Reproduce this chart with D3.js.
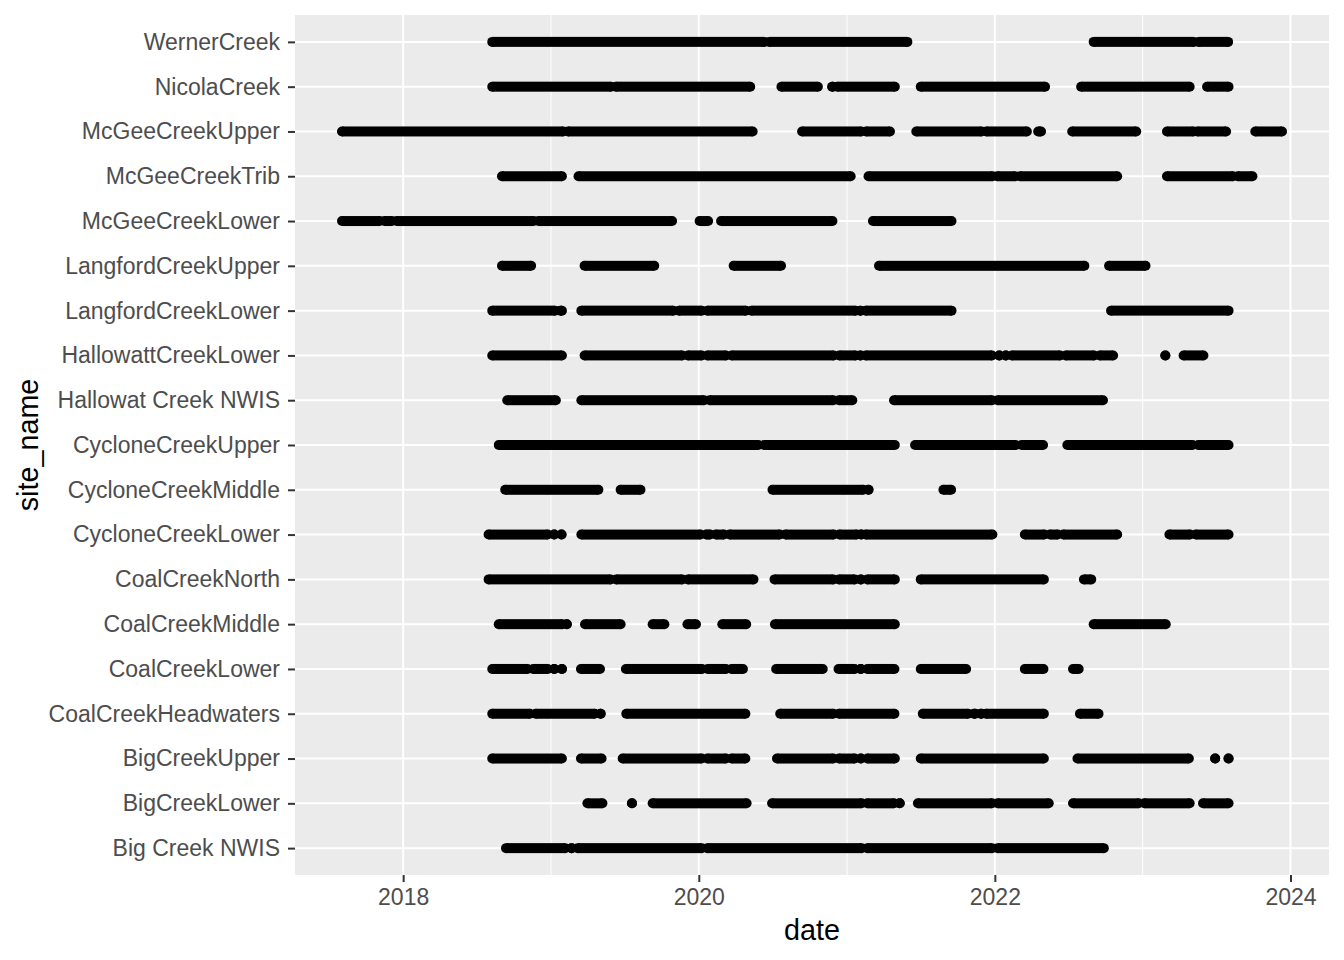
<!DOCTYPE html>
<html>
<head>
<meta charset="utf-8">
<script src="https://cdn.jsdelivr.net/npm/d3@7"></script>
<style>
  html, body { margin: 0; padding: 0; background: #fff; }
  svg { display: block; font-family: "Liberation Sans", Arial, sans-serif; }
</style>
</head>
<body>
<svg id="chart" width="1344" height="960"></svg>
<script>
// ---- Data (observation runs per site: [start, end]) ----
const sites = ["WernerCreek","NicolaCreek","McGeeCreekUpper","McGeeCreekTrib","McGeeCreekLower",
  "LangfordCreekUpper","LangfordCreekLower","HallowattCreekLower","Hallowat Creek NWIS",
  "CycloneCreekUpper","CycloneCreekMiddle","CycloneCreekLower","CoalCreekNorth","CoalCreekMiddle",
  "CoalCreekLower","CoalCreekHeadwaters","BigCreekUpper","BigCreekLower","Big Creek NWIS"];

const wernerCreek = [["2018-08-09","2020-06-11"],["2020-06-23","2021-05-30"],
  ["2022-09-02","2023-05-07"],["2023-05-19","2023-07-31"]];
const nicolaCreek = [["2018-08-09","2019-05-29"],["2019-06-10","2020-05-07"],["2020-07-23","2020-10-21"],
  ["2020-11-25","2020-11-27"],["2020-12-08","2021-04-29"],["2021-07-02","2022-05-05"],
  ["2022-08-02","2023-04-27"],["2023-06-09","2023-08-01"]];
const mcGeeCreekUpper = [["2017-08-03","2019-01-31"],["2019-02-12","2020-05-13"],["2020-09-12","2021-02-05"],
  ["2021-02-17","2021-04-17"],["2021-06-21","2021-11-29"],["2021-12-11","2022-03-21"],["2022-04-18","2022-04-25"],
  ["2022-07-11","2022-12-16"],["2023-03-02","2023-05-06"],["2023-05-16","2023-07-26"],["2023-10-06","2023-12-11"]];
const mcGeeCreekTrib = [["2018-09-02","2019-01-28"],["2019-03-10","2021-01-10"],["2021-02-23","2021-12-26"],
  ["2022-01-07","2022-02-20"],["2022-03-04","2022-10-30"],["2023-03-02","2023-08-12"],["2023-08-24","2023-09-29"]];
const mcGeeCreekLower = [["2017-08-03","2017-11-04"],["2017-11-16","2017-12-04"],["2017-12-16","2018-11-19"],
  ["2018-12-01","2019-10-27"],["2020-01-03","2020-01-24"],["2020-02-25","2020-11-26"],["2021-03-06","2021-09-16"]];
const langfordCreekUpper = [["2018-09-02","2018-11-13"],["2019-03-25","2019-09-13"],["2020-03-27","2020-07-22"],
  ["2021-03-21","2022-08-10"],["2022-10-10","2023-01-08"]];
const langfordCreekLower = [["2018-08-09","2019-01-11"],["2019-01-24","2019-01-28"],["2019-03-17","2019-10-30"],
  ["2019-11-13","2020-01-08"],["2020-01-22","2020-04-26"],["2020-05-10","2021-01-22"],["2021-02-03","2021-02-03"],
  ["2021-02-16","2021-09-16"],["2022-10-15","2023-08-01"]];
const hallowattCreekLower = [["2018-08-09","2019-01-28"],["2019-03-25","2019-11-21"],["2019-12-05","2020-01-08"],
  ["2020-01-22","2020-03-08"],["2020-03-22","2020-11-29"],["2020-12-13","2021-01-22"],["2021-02-03","2021-02-03"],
  ["2021-02-16","2021-12-25"],["2022-01-12","2022-01-12"],["2022-01-28","2022-01-28"],["2022-02-12","2022-06-11"],
  ["2022-06-25","2022-09-03"],["2022-09-17","2022-10-20"],["2023-02-26","2023-02-26"],["2023-04-12","2023-05-31"]];
const hallowatCreekNWIS = [["2018-09-15","2019-01-13"],["2019-03-17","2020-01-14"],["2020-01-28","2020-11-28"],
  ["2020-12-12","2021-01-14"],["2021-04-27","2021-12-25"],["2022-01-08","2022-09-25"]];
const cycloneCreekUpper = [["2018-08-25","2020-05-27"],["2020-06-10","2021-04-29"],["2021-06-18","2022-02-22"],
  ["2022-03-08","2022-04-30"],["2022-06-29","2023-05-04"],["2023-05-18","2023-08-01"]];
const cycloneCreekMiddle = [["2018-09-10","2019-04-28"],["2019-06-22","2019-08-10"],["2020-07-01","2021-02-10"],
  ["2021-02-23","2021-02-23"],["2021-08-27","2021-09-15"]];
const cycloneCreekLower = [["2018-07-31","2018-12-24"],["2019-01-09","2019-01-09"],["2019-01-27","2019-01-27"],
  ["2019-03-17","2020-01-05"],["2020-01-19","2020-01-29"],["2020-02-12","2020-03-03"],["2020-03-17","2020-07-19"],
  ["2020-08-02","2020-11-29"],["2020-12-13","2021-01-25"],["2021-02-05","2021-02-05"],["2021-02-16","2021-12-26"],
  ["2022-03-16","2022-05-03"],["2022-05-17","2022-06-05"],["2022-06-19","2022-10-30"],
  ["2023-03-08","2023-04-28"],["2023-05-12","2023-08-01"]];
const coalCreekNorth = [["2018-07-31","2019-05-28"],["2019-06-11","2019-11-21"],["2019-12-05","2020-05-15"],
  ["2020-07-06","2020-11-28"],["2020-12-12","2021-01-20"],["2021-02-04","2021-02-04"],["2021-02-20","2021-04-29"],
  ["2021-07-02","2022-05-02"],["2022-08-09","2022-08-27"]];
const coalCreekMiddle = [["2018-08-25","2019-01-29"],["2019-02-09","2019-02-09"],["2019-03-26","2019-06-22"],
  ["2019-09-09","2019-10-08"],["2019-12-04","2019-12-25"],["2020-02-28","2020-04-27"],["2020-07-07","2021-04-29"],
  ["2022-09-02","2023-02-27"]];
const coalCreekLower = [["2018-08-09","2018-11-04"],["2018-11-18","2018-12-24"],["2019-01-09","2019-01-09"],
  ["2019-01-28","2019-01-28"],["2019-03-16","2019-05-02"],["2019-07-05","2020-01-09"],["2020-01-23","2020-03-08"],
  ["2020-03-22","2020-04-19"],["2020-07-10","2020-11-02"],["2020-12-11","2021-01-20"],["2021-02-04","2021-02-04"],
  ["2021-02-20","2021-04-28"],["2021-07-02","2021-10-22"],["2022-03-16","2022-05-01"],["2022-07-13","2022-07-27"]];
const coalCreekHeadwaters = [["2018-08-09","2018-11-10"],["2018-11-24","2019-04-19"],["2019-05-03","2019-05-04"],
  ["2019-07-06","2020-04-25"],["2020-07-20","2020-11-28"],["2020-12-12","2021-04-28"],["2021-07-07","2021-10-27"],
  ["2021-11-10","2021-11-14"],["2021-11-27","2021-11-29"],["2021-12-10","2022-05-02"],["2022-07-30","2022-09-14"]];
const bigCreekUpper = [["2018-08-09","2019-01-28"],["2019-03-16","2019-05-06"],["2019-06-27","2020-01-08"],
  ["2020-01-22","2020-03-08"],["2020-03-22","2020-04-25"],["2020-07-12","2020-11-28"],["2020-12-12","2021-01-20"],
  ["2021-02-04","2021-02-04"],["2021-02-20","2021-04-29"],["2021-07-02","2022-05-02"],["2022-07-24","2023-04-25"],
  ["2023-06-29","2023-06-29"],["2023-08-01","2023-08-01"]];
const bigCreekLower = [["2019-04-01","2019-05-08"],["2019-07-20","2019-07-20"],["2019-09-09","2020-04-28"],
  ["2020-06-30","2021-02-06"],["2021-02-20","2021-04-27"],["2021-05-11","2021-05-11"],["2021-06-25","2021-12-25"],
  ["2022-01-08","2022-05-14"],["2022-07-13","2022-12-22"],["2023-01-05","2023-04-27"],["2023-05-30","2023-08-01"]];
const bigCreekNWIS = [["2018-09-12","2019-02-05"],["2019-02-21","2019-02-21"],["2019-03-08","2020-01-08"],
  ["2020-01-22","2021-02-06"],["2021-02-20","2021-12-25"],["2022-01-08","2022-09-27"]];

const majorYears = ["2018","2020","2022","2024"];
const minorYears = ["2019","2021","2023"];
const xTitle = "date";
const yTitle = "site_name";

// ---- Build table ----
const runsBySite = {
  "WernerCreek": wernerCreek, "NicolaCreek": nicolaCreek, "McGeeCreekUpper": mcGeeCreekUpper,
  "McGeeCreekTrib": mcGeeCreekTrib, "McGeeCreekLower": mcGeeCreekLower, "LangfordCreekUpper": langfordCreekUpper,
  "LangfordCreekLower": langfordCreekLower, "HallowattCreekLower": hallowattCreekLower,
  "Hallowat Creek NWIS": hallowatCreekNWIS, "CycloneCreekUpper": cycloneCreekUpper,
  "CycloneCreekMiddle": cycloneCreekMiddle, "CycloneCreekLower": cycloneCreekLower,
  "CoalCreekNorth": coalCreekNorth, "CoalCreekMiddle": coalCreekMiddle, "CoalCreekLower": coalCreekLower,
  "CoalCreekHeadwaters": coalCreekHeadwaters, "BigCreekUpper": bigCreekUpper, "BigCreekLower": bigCreekLower,
  "Big Creek NWIS": bigCreekNWIS
};
const parse = d3.utcParse("%Y-%m-%d");
const rows = [];
sites.forEach(s => runsBySite[s].forEach(([a, b]) => rows.push({site: s, start: parse(a), end: parse(b)})));

// ---- Layout ----
const panel = {l: 295, r: 1329, t: 15, b: 875};
const svg = d3.select("#chart");

const [mn, mx] = d3.extent(rows.flatMap(d => [d.start, d.end]));
const pad = (mx - mn) * 0.05;
const x = d3.scaleUtc().domain([new Date(+mn - pad), new Date(+mx + pad)]).range([panel.l, panel.r]);
const y = d3.scalePoint().domain(sites).range([panel.t, panel.b]).padding(0.6);

svg.append("rect").attr("width", 1344).attr("height", 960).attr("fill", "#fff");
svg.append("rect").attr("x", panel.l).attr("y", panel.t)
  .attr("width", panel.r - panel.l).attr("height", panel.b - panel.t).attr("fill", "#EBEBEB");

const yearDate = yv => d3.utcParse("%Y")(yv);
const grid = svg.append("g");
grid.selectAll("line.minor").data(minorYears).join("line")
  .attr("x1", d => x(yearDate(d))).attr("x2", d => x(yearDate(d)))
  .attr("y1", panel.t).attr("y2", panel.b).attr("stroke", "#fff").attr("stroke-width", 1);
grid.selectAll("line.majx").data(majorYears).join("line")
  .attr("x1", d => x(yearDate(d))).attr("x2", d => x(yearDate(d)))
  .attr("y1", panel.t).attr("y2", panel.b).attr("stroke", "#fff").attr("stroke-width", 2);
grid.selectAll("line.majy").data(sites).join("line")
  .attr("x1", panel.l).attr("x2", panel.r)
  .attr("y1", d => y(d)).attr("y2", d => y(d)).attr("stroke", "#fff").attr("stroke-width", 2);

// ---- Marks ----
const R = 5;
const marks = svg.append("g").attr("fill", "#000");
marks.selectAll("rect").data(rows).join("rect")
  .attr("x", d => x(d.start)).attr("y", d => y(d.site) - R)
  .attr("width", d => Math.max(0, x(d.end) - x(d.start))).attr("height", 2 * R);
marks.selectAll("circle.s").data(rows).join("circle")
  .attr("cx", d => x(d.start)).attr("cy", d => y(d.site)).attr("r", R);
marks.selectAll("circle.e").data(rows).join("circle")
  .attr("cx", d => x(d.end)).attr("cy", d => y(d.site)).attr("r", R);

// ---- Axes ----
const xAxis = svg.append("g").attr("transform", `translate(0,${panel.b})`)
  .call(d3.axisBottom(x).tickValues(majorYears.map(yearDate)).tickFormat(d3.utcFormat("%Y"))
    .tickSize(7).tickPadding(7));
const yAxis = svg.append("g").attr("transform", `translate(${panel.l},0)`)
  .call(d3.axisLeft(y).tickSize(7).tickPadding(8));
[xAxis, yAxis].forEach(g => {
  g.select(".domain").remove();
  g.selectAll(".tick line").attr("stroke", "#333333").attr("stroke-width", 2);
  g.selectAll(".tick text").attr("fill", "#4D4D4D").style("font-size", "23px")
    .style("font-family", "'Liberation Sans', Arial, sans-serif");
});

svg.append("text").attr("x", (panel.l + panel.r) / 2).attr("y", 940)
  .attr("text-anchor", "middle").style("font-size", "28.75px").attr("fill", "#000").text(xTitle);
svg.append("text").attr("transform", `translate(38,${(panel.t + panel.b) / 2}) rotate(-90)`)
  .attr("text-anchor", "middle").style("font-size", "28.75px").attr("fill", "#000").text(yTitle);
</script>
</body>
</html>
